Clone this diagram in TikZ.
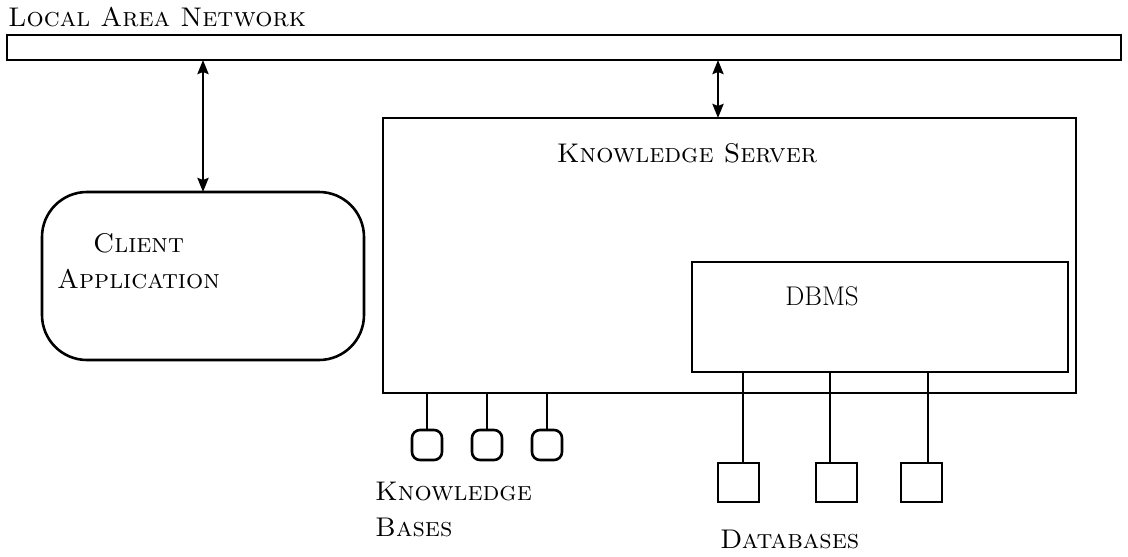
\documentclass[tikz,border=0pt]{standalone}
\usetikzlibrary{arrows.meta}
\begin{document}
\begin{tikzpicture}[x=1pt,y=-1pt,
  ln/.style={line width=2.6pt},
  box/.style={draw,ln,anchor=north west,inner sep=0pt,outer sep=0pt},
  lbl/.style={font=\fontsize{27}{32}\selectfont\scshape,inner sep=0pt,anchor=base west},
  dblarrow/.style={ln,{Stealth[length=14pt,width=11pt,inset=2pt]}-{Stealth[length=14pt,width=11pt,inset=2pt]}}]
\useasboundingbox (0,0) rectangle (1128,557);
% LAN
\node[box,minimum width=1114pt,minimum height=25pt] (lan) at (7,35) {};
\node[lbl] (lanlbl) at (8,26) {Local Area Network};
% client
\node[box,rounded corners=45pt,minimum width=322pt,minimum height=168pt] (client) at (42,192) {};
\node[lbl] (cl1) at (93,252) {Client};
\node[lbl] (cl2) at (57,288) {Application};
% server
\node[box,minimum width=693pt,minimum height=275pt] (server) at (383,118) {};
\node[lbl,anchor=base] (srvlbl) at (687,162) {Knowledge Server};
\coordinate (srvtop) at (718,118);
% DBMS
\node[box,minimum width=376pt,minimum height=110pt] (dbms) at (692,262) {};
\node[lbl,anchor=base] (dbmslbl) at (822,305) {\textup{DBMS}};
% arrows
\draw[dblarrow] (lan.south -| client.north) -- (client.north);
\draw[dblarrow] (lan.south -| srvtop) -- (srvtop);
% knowledge bases
\foreach \i/\x in {1/412,2/472,3/532}{
  \node[box,rounded corners=8pt,minimum width=30pt,minimum height=30pt] (kb\i) at (\x,430) {};
  \draw[ln] (server.south -| kb\i.north) -- (kb\i.north);
}
\node[lbl] (kbl1) at (375,500) {Knowledge};
\node[lbl] (kbl2) at (375,536) {Bases};
% databases
\foreach \i/\x in {1/718,2/816,3/901}{
  \node[box,minimum width=41pt,minimum height=39pt] (db\i) at (\x,463) {};
}
\draw[ln] (dbms.south -| 743,0) coordinate (d1) -- (d1 |- db1.north);
\draw[ln] (dbms.south -| 830,0) coordinate (d2) -- (d2 |- db2.north);
\draw[ln] (dbms.south -| 928,0) coordinate (d3) -- (d3 |- db3.north);
\node[lbl] (dbl) at (720,548) {Databases};
\end{tikzpicture}
\end{document}
